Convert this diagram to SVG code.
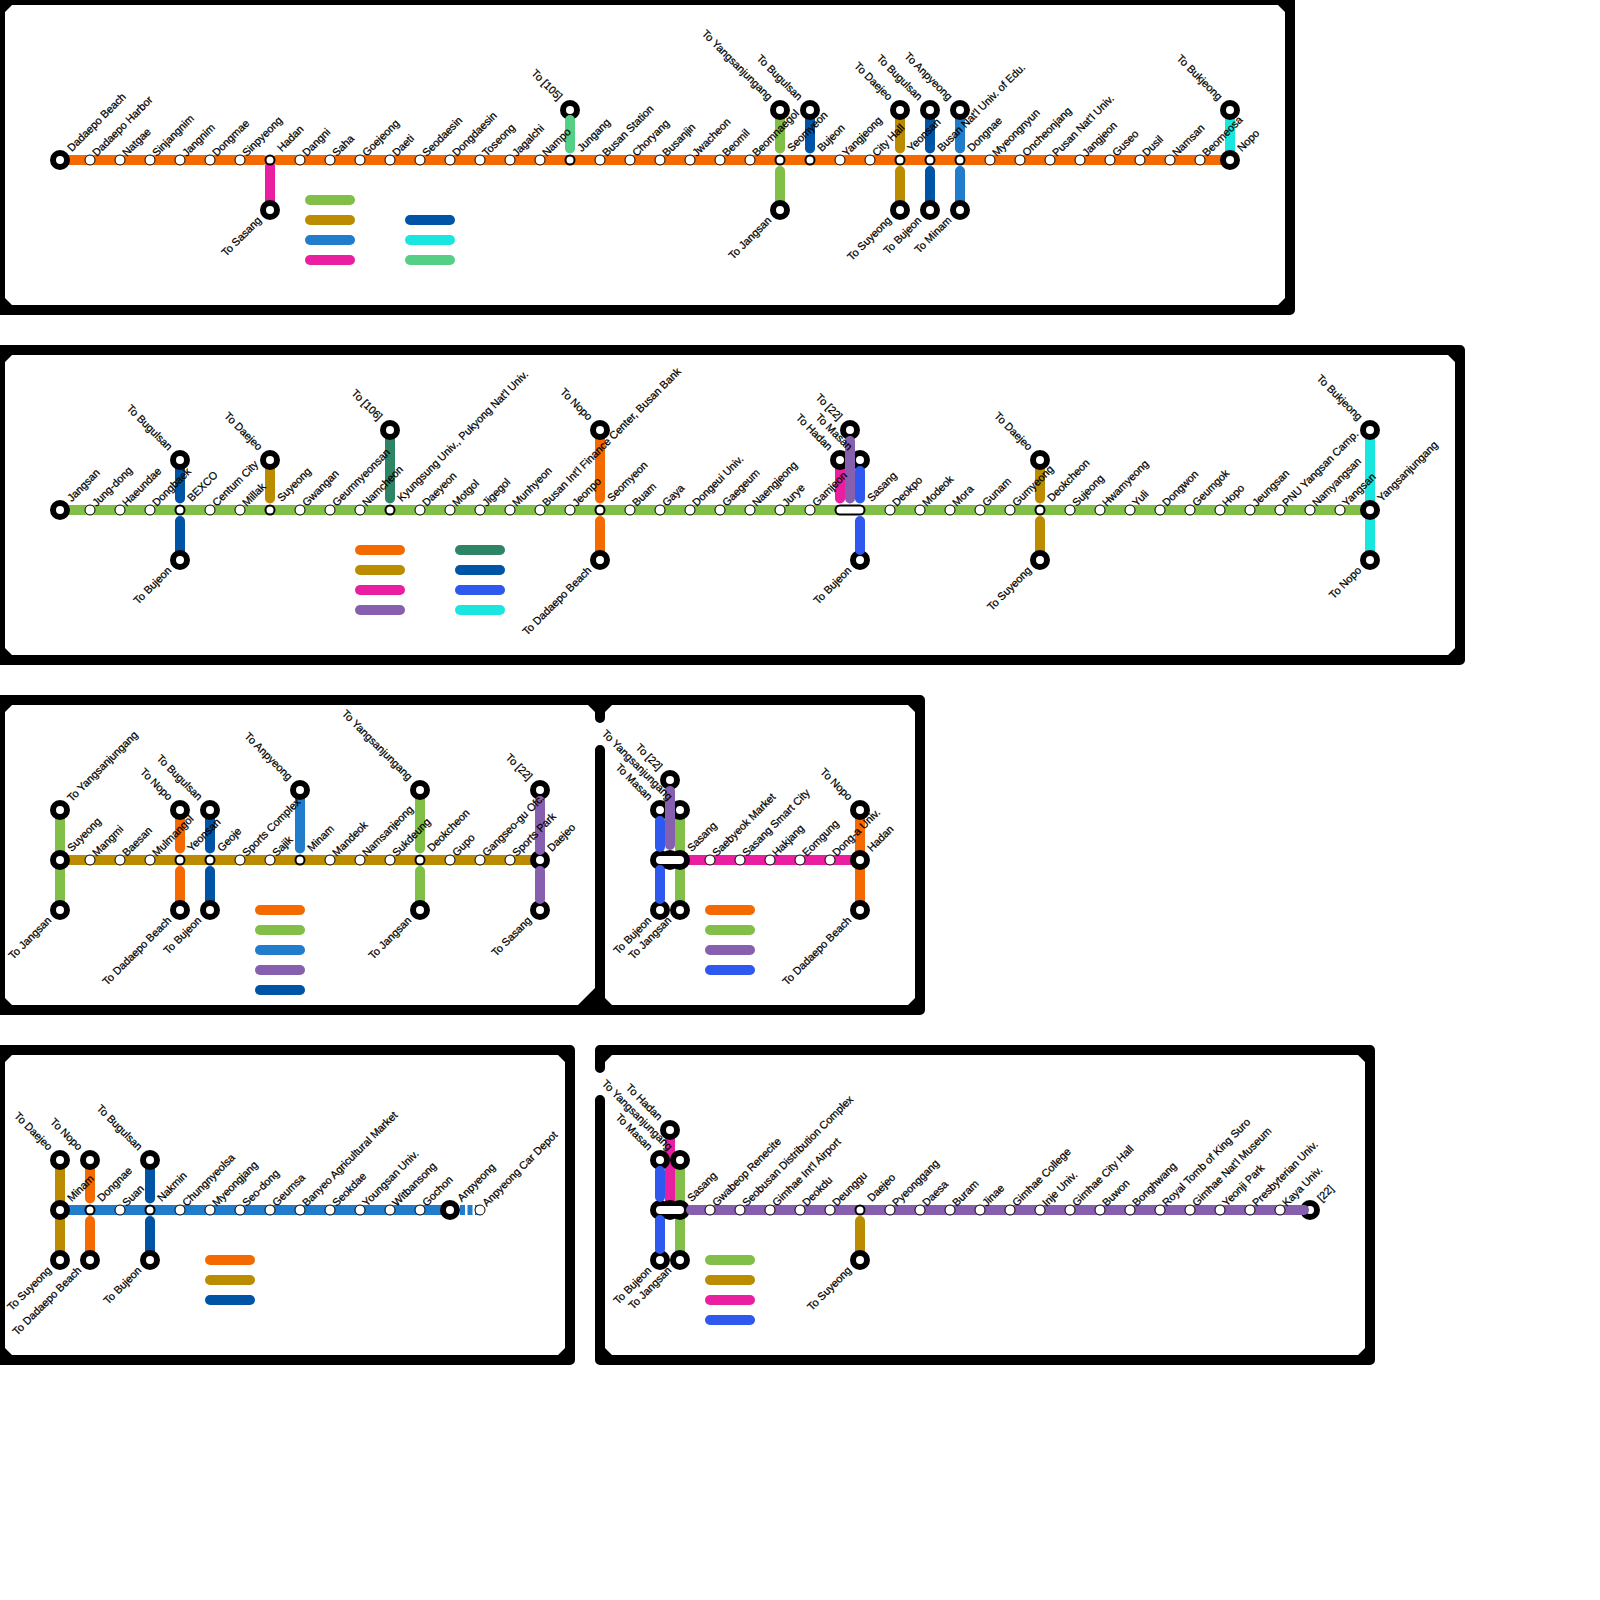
<svg xmlns="http://www.w3.org/2000/svg" width="1600" height="1600" viewBox="0 0 1600 1600">
<style>
text{font-family:"Liberation Sans",Arial,sans-serif;font-size:10.8px;fill:#000;stroke:#000;stroke-width:.25px}
.a{transform:translate(6.8px,-3px) rotate(-45deg)}
.b{transform:translate(11.7px,-7.8px) rotate(-45deg)}
.u{text-anchor:end;transform:translate(-12px,-9px) rotate(45deg)}
.d{text-anchor:end;transform:translate(-8px,11px) rotate(-45deg)}
.f{fill:none;stroke:#000;stroke-width:10;stroke-linejoin:round;stroke-linecap:round}
.l{fill:none;stroke-width:10;stroke-linecap:round}
.or{stroke:#F56A00}.gr{stroke:#81BF48}.br{stroke:#BB8C00}.mb{stroke:#217DCB}.pk{stroke:#E91EA0}.db{stroke:#0054A6}.cy{stroke:#1AE6E0}.mt{stroke:#55CF85}.te{stroke:#2E8565}.bb{stroke:#2F58EE}.pu{stroke:#8660AE}
.s{fill:#fff;stroke:#000;stroke-width:1}
.i{fill:#fff;stroke:#000;stroke-width:2}
.t{fill:#fff;stroke:#000;stroke-width:6}
</style>
<g id="panels">
<rect class="f" x="0" y="0" width="1290" height="310"/>
<rect class="f" x="0" y="350" width="1460" height="310"/>
<path class="f" d="M600 718V700H0V1010H920V700H600M600 750V1010"/>
<rect class="f" x="0" y="1050" width="570" height="310"/>
<path class="f" d="M600 1068V1050H1370V1360H600V1100"/>
<path d="M5 5h7l-7 7zM5 305h7l-7-7zM1285 5h-7l7 7zM1285 305h-7l7-7z"/>
<path d="M5 355h7l-7 7zM5 655h7l-7-7zM1455 355h-7l7 7zM1455 655h-7l7-7z"/>
<path d="M5 705h7l-7 7zM5 1005h7l-7-7zM595 705h-7l7 7zM605 705h7l-7 7zM915 705h-7l7 7zM915 1005h-7l7-7zM605 1005h7l-7-7zM595 1005h-17l17-17z"/>
<path d="M5 1055h7l-7 7zM5 1355h7l-7-7zM565 1055h-7l7 7zM565 1355h-7l7-7z"/>
<path d="M605 1055h7l-7 7zM605 1355h7l-7-7zM1365 1055h-7l7 7zM1365 1355h-7l7-7z"/>
</g>
<g id="legends">
<path class="l gr" d="M310 200H350"/><path class="l br" d="M310 220H350"/><path class="l mb" d="M310 240H350"/><path class="l pk" d="M310 260H350"/>
<path class="l db" d="M410 220H450"/><path class="l cy" d="M410 240H450"/><path class="l mt" d="M410 260H450"/>
<path class="l or" d="M360 550H400"/><path class="l br" d="M360 570H400"/><path class="l pk" d="M360 590H400"/><path class="l pu" d="M360 610H400"/>
<path class="l te" d="M460 550H500"/><path class="l db" d="M460 570H500"/><path class="l bb" d="M460 590H500"/><path class="l cy" d="M460 610H500"/>
<path class="l or" d="M260 910H300"/><path class="l gr" d="M260 930H300"/><path class="l mb" d="M260 950H300"/><path class="l pu" d="M260 970H300"/><path class="l db" d="M260 990H300"/>
<path class="l or" d="M710 910H750"/><path class="l gr" d="M710 930H750"/><path class="l pu" d="M710 950H750"/><path class="l bb" d="M710 970H750"/>
<path class="l or" d="M210 1260H250"/><path class="l br" d="M210 1280H250"/><path class="l db" d="M210 1300H250"/>
<path class="l gr" d="M710 1260H750"/><path class="l br" d="M710 1280H750"/><path class="l pk" d="M710 1300H750"/><path class="l bb" d="M710 1320H750"/>
</g>
<g id="connectors">
<path class="l or" d="M60 160H263M277 160H1230"/>
<path class="l pk" d="M270 166V205"/>
<path class="l gr" d="M780 110V148.5M780 171V210"/>
<path class="l db" d="M810 110V148.5"/>
<path class="l br" d="M900 110V148.5M900 171V210"/>
<path class="l db" d="M930 110V148.5M930 171V210"/>
<path class="l mb" d="M960 110V148.5M960 171V210"/>
<path class="l cy" d="M1230 110V160"/>
<path class="l gr" d="M60 510H1370"/>
<path class="l db" d="M180 460V498.5M180 521V560"/>
<path class="l br" d="M270 460V498.5"/>
<path class="l te" d="M390 430V498.5"/>
<path class="l or" d="M600 430V498.5M600 521V560"/>
<path class="l pk" d="M840 460V498.5"/>
<path class="l br" d="M1040 460V498.5M1040 521V560"/>
<path class="l cy" d="M1370 430V560"/>
<path class="l br" d="M60 860H540"/>
<path class="l gr" d="M60 810V910"/>
<path class="l or" d="M180 810V848.5M180 871V910"/>
<path class="l db" d="M210 810V848.5M210 871V910"/>
<path class="l mb" d="M300 790V848.5"/>
<path class="l gr" d="M420 790V848.5M420 871V910"/>
<path class="l pk" d="M680 860H860"/>
<path class="l gr" d="M680 810V910"/>
<path class="l or" d="M860 810V910"/>
<path class="l mb" d="M60 1210H450"/>
<path class="l mb" style="stroke-linecap:butt;stroke-dasharray:5 2.5" d="M452.5 1210H480"/>
<path class="l br" d="M60 1160V1260"/>
<path class="l or" d="M90 1160V1198.5M90 1221V1260"/>
<path class="l db" d="M150 1160V1198.5M150 1221V1260"/>
<path class="l pk" d="M670 1130V1205"/>
<path class="l gr" d="M680 1160V1260"/>
<path class="l br" d="M860 1221V1260"/>
</g>
<g id="terminal-rings">
<circle class="t" cx="570" cy="110" r="7"/>
<circle class="t" cx="850" cy="430" r="7"/>
<circle class="t" cx="840" cy="460" r="7"/>
<circle class="t" cx="860" cy="460" r="7"/>
<circle class="t" cx="860" cy="560" r="7"/>
<circle class="t" cx="540" cy="790" r="7"/>
<circle class="t" cx="540" cy="860" r="7"/>
<circle class="t" cx="540" cy="910" r="7"/>
<circle class="t" cx="670" cy="780" r="7"/>
<circle class="t" cx="660" cy="810" r="7"/>
<circle class="t" cx="680" cy="810" r="7"/>
<circle class="t" cx="660" cy="910" r="7"/>
<circle class="t" cx="680" cy="910" r="7"/>
<circle class="t" cx="670" cy="1130" r="7"/>
<circle class="t" cx="660" cy="1160" r="7"/>
<circle class="t" cx="680" cy="1160" r="7"/>
<circle class="t" cx="660" cy="1260" r="7"/>
<circle class="t" cx="680" cy="1260" r="7"/>
<circle class="t" cx="1310" cy="1210" r="7"/>
<g id="sasang-pill-3"><circle cx="660" cy="860" r="10"/><circle cx="670" cy="860" r="10"/><circle cx="680" cy="860" r="10"/><path d="M660 860H680" stroke="#fff" stroke-width="8" stroke-linecap="round"/></g>
<g id="sasang-pill-4"><circle cx="660" cy="1210" r="10"/><circle cx="670" cy="1210" r="10"/><circle cx="680" cy="1210" r="10"/><path d="M660 1210H680" stroke="#fff" stroke-width="8" stroke-linecap="round"/></g>
</g>
<g id="connectors-top">
<path class="l mt" d="M570 120V148.5"/>
<path class="l pu" d="M850 441V498.5"/>
<path class="l bb" d="M860 471V498.5M860 521V550"/>
<path class="l pu" d="M540 801V850M540 871V899"/>
<path class="l pu" d="M670 791V845"/>
<path class="l bb" d="M660 821V847M660 870V899"/>
<path class="l bb" d="M660 1171V1197M660 1220V1249"/>
<path class="l pu" d="M691 1210H1304"/>
</g>
<g id="station-pill"><path d="M840 510H860" stroke="#000" stroke-width="11" stroke-linecap="round"/><path d="M840 510H860" stroke="#fff" stroke-width="7" stroke-linecap="round"/></g>
<g id="line-1-stations">
<g id="a060" transform="translate(60 160)"><circle class="t" r="7"/><text class="b">Dadaepo Beach</text></g>
<g id="a090" transform="translate(90 160)"><circle class="s" r="5"/><text class="a">Dadaepo Harbor</text></g>
<g id="a120" transform="translate(120 160)"><circle class="s" r="5"/><text class="a">Natgae</text></g>
<g id="a150" transform="translate(150 160)"><circle class="s" r="5"/><text class="a">Sinjangnim</text></g>
<g id="a180" transform="translate(180 160)"><circle class="s" r="5"/><text class="a">Jangnim</text></g>
<g id="a210" transform="translate(210 160)"><circle class="s" r="5"/><text class="a">Dongmae</text></g>
<g id="a240" transform="translate(240 160)"><circle class="s" r="5"/><text class="a">Sinpyeong</text></g>
<g id="a270" transform="translate(270 160)"><circle class="i" r="4.5"/><text class="b">Hadan</text></g>
<g id="a300" transform="translate(300 160)"><circle class="s" r="5"/><text class="a">Dangni</text></g>
<g id="a330" transform="translate(330 160)"><circle class="s" r="5"/><text class="a">Saha</text></g>
<g id="a360" transform="translate(360 160)"><circle class="s" r="5"/><text class="a">Goejeong</text></g>
<g id="a390" transform="translate(390 160)"><circle class="s" r="5"/><text class="a">Daeti</text></g>
<g id="a420" transform="translate(420 160)"><circle class="s" r="5"/><text class="a">Seodaesin</text></g>
<g id="a450" transform="translate(450 160)"><circle class="s" r="5"/><text class="a">Dongdaesin</text></g>
<g id="a480" transform="translate(480 160)"><circle class="s" r="5"/><text class="a">Toseong</text></g>
<g id="a510" transform="translate(510 160)"><circle class="s" r="5"/><text class="a">Jagalchi</text></g>
<g id="a540" transform="translate(540 160)"><circle class="s" r="5"/><text class="a">Nampo</text></g>
<g id="a570" transform="translate(570 160)"><circle class="i" r="4.5"/><text class="b">Jungang</text></g>
<g id="a600" transform="translate(600 160)"><circle class="s" r="5"/><text class="a">Busan Station</text></g>
<g id="a630" transform="translate(630 160)"><circle class="s" r="5"/><text class="a">Choryang</text></g>
<g id="a660" transform="translate(660 160)"><circle class="s" r="5"/><text class="a">Busanjin</text></g>
<g id="a690" transform="translate(690 160)"><circle class="s" r="5"/><text class="a">Jwacheon</text></g>
<g id="a720" transform="translate(720 160)"><circle class="s" r="5"/><text class="a">Beomil</text></g>
<g id="a750" transform="translate(750 160)"><circle class="s" r="5"/><text class="a">Beomnaegol</text></g>
<g id="a780" transform="translate(780 160)"><circle class="i" r="4.5"/><text class="b">Seomyeon</text></g>
<g id="a810" transform="translate(810 160)"><circle class="i" r="4.5"/><text class="b">Bujeon</text></g>
<g id="a840" transform="translate(840 160)"><circle class="s" r="5"/><text class="a">Yangjeong</text></g>
<g id="a870" transform="translate(870 160)"><circle class="s" r="5"/><text class="a">City Hall</text></g>
<g id="a900" transform="translate(900 160)"><circle class="i" r="4.5"/><text class="b">Yeonsan</text></g>
<g id="a930" transform="translate(930 160)"><circle class="i" r="4.5"/><text class="b">Busan Nat'l Univ. of Edu.</text></g>
<g id="a960" transform="translate(960 160)"><circle class="i" r="4.5"/><text class="b">Dongnae</text></g>
<g id="a990" transform="translate(990 160)"><circle class="s" r="5"/><text class="a">Myeongnyun</text></g>
<g id="a1020" transform="translate(1020 160)"><circle class="s" r="5"/><text class="a">Oncheonjang</text></g>
<g id="a1050" transform="translate(1050 160)"><circle class="s" r="5"/><text class="a">Pusan Nat'l Univ.</text></g>
<g id="a1080" transform="translate(1080 160)"><circle class="s" r="5"/><text class="a">Jangjeon</text></g>
<g id="a1110" transform="translate(1110 160)"><circle class="s" r="5"/><text class="a">Guseo</text></g>
<g id="a1140" transform="translate(1140 160)"><circle class="s" r="5"/><text class="a">Dusil</text></g>
<g id="a1170" transform="translate(1170 160)"><circle class="s" r="5"/><text class="a">Namsan</text></g>
<g id="a1200" transform="translate(1200 160)"><circle class="s" r="5"/><text class="a">Beomeosa</text></g>
<g id="a1230" transform="translate(1230 160)"><circle class="t" r="7"/><text class="b">Nopo</text></g>
<g id="at270" transform="translate(270 210)"><circle class="t" r="7"/><text class="d">To Sasang</text></g>
<g id="at570" transform="translate(570 110)"><text class="u">To [105]</text></g>
<g id="at780u" transform="translate(780 110)"><circle class="t" r="7"/><text class="u">To Yangsanjungang</text></g>
<g id="at780d" transform="translate(780 210)"><circle class="t" r="7"/><text class="d">To Jangsan</text></g>
<g id="at810" transform="translate(810 110)"><circle class="t" r="7"/><text class="u">To Bugulsan</text></g>
<g id="at900u" transform="translate(900 110)"><circle class="t" r="7"/><text class="u">To Daejeo</text></g>
<g id="at900d" transform="translate(900 210)"><circle class="t" r="7"/><text class="d">To Suyeong</text></g>
<g id="at930u" transform="translate(930 110)"><circle class="t" r="7"/><text class="u">To Bugulsan</text></g>
<g id="at930d" transform="translate(930 210)"><circle class="t" r="7"/><text class="d">To Bujeon</text></g>
<g id="at960u" transform="translate(960 110)"><circle class="t" r="7"/><text class="u">To Anpyeong</text></g>
<g id="at960d" transform="translate(960 210)"><circle class="t" r="7"/><text class="d">To Minam</text></g>
<g id="at1230" transform="translate(1230 110)"><circle class="t" r="7"/><text class="u">To Bukjeong</text></g>
</g>
<g id="line-2-stations">
<g id="b060" transform="translate(60 510)"><circle class="t" r="7"/><text class="b">Jangsan</text></g>
<g id="b090" transform="translate(90 510)"><circle class="s" r="5"/><text class="a">Jung-dong</text></g>
<g id="b120" transform="translate(120 510)"><circle class="s" r="5"/><text class="a">Haeundae</text></g>
<g id="b150" transform="translate(150 510)"><circle class="s" r="5"/><text class="a">Dongbaek</text></g>
<g id="b180" transform="translate(180 510)"><circle class="i" r="4.5"/><text class="b">BEXCO</text></g>
<g id="b210" transform="translate(210 510)"><circle class="s" r="5"/><text class="a">Centum City</text></g>
<g id="b240" transform="translate(240 510)"><circle class="s" r="5"/><text class="a">Millak</text></g>
<g id="b270" transform="translate(270 510)"><circle class="i" r="4.5"/><text class="b">Suyeong</text></g>
<g id="b300" transform="translate(300 510)"><circle class="s" r="5"/><text class="a">Gwangan</text></g>
<g id="b330" transform="translate(330 510)"><circle class="s" r="5"/><text class="a">Geumnyeonsan</text></g>
<g id="b360" transform="translate(360 510)"><circle class="s" r="5"/><text class="a">Namcheon</text></g>
<g id="b390" transform="translate(390 510)"><circle class="i" r="4.5"/><text class="b">Kyungsung Univ., Pukyong Nat'l Univ.</text></g>
<g id="b420" transform="translate(420 510)"><circle class="s" r="5"/><text class="a">Daeyeon</text></g>
<g id="b450" transform="translate(450 510)"><circle class="s" r="5"/><text class="a">Motgol</text></g>
<g id="b480" transform="translate(480 510)"><circle class="s" r="5"/><text class="a">Jigegol</text></g>
<g id="b510" transform="translate(510 510)"><circle class="s" r="5"/><text class="a">Munhyeon</text></g>
<g id="b540" transform="translate(540 510)"><circle class="s" r="5"/><text class="a">Busan Int'l Finance Center, Busan Bank</text></g>
<g id="b570" transform="translate(570 510)"><circle class="s" r="5"/><text class="a">Jeonpo</text></g>
<g id="b600" transform="translate(600 510)"><circle class="i" r="4.5"/><text class="b">Seomyeon</text></g>
<g id="b630" transform="translate(630 510)"><circle class="s" r="5"/><text class="a">Buam</text></g>
<g id="b660" transform="translate(660 510)"><circle class="s" r="5"/><text class="a">Gaya</text></g>
<g id="b690" transform="translate(690 510)"><circle class="s" r="5"/><text class="a">Dongeui Univ.</text></g>
<g id="b720" transform="translate(720 510)"><circle class="s" r="5"/><text class="a">Gaegeum</text></g>
<g id="b750" transform="translate(750 510)"><circle class="s" r="5"/><text class="a">Naengjeong</text></g>
<g id="b780" transform="translate(780 510)"><circle class="s" r="5"/><text class="a">Jurye</text></g>
<g id="b810" transform="translate(810 510)"><circle class="s" r="5"/><text class="a">Gamjeon</text></g>
<g id="b860" transform="translate(860 510)"><text class="b">Sasang</text></g>
<g id="b890" transform="translate(890 510)"><circle class="s" r="5"/><text class="a">Deokpo</text></g>
<g id="b920" transform="translate(920 510)"><circle class="s" r="5"/><text class="a">Modeok</text></g>
<g id="b950" transform="translate(950 510)"><circle class="s" r="5"/><text class="a">Mora</text></g>
<g id="b980" transform="translate(980 510)"><circle class="s" r="5"/><text class="a">Gunam</text></g>
<g id="b1010" transform="translate(1010 510)"><circle class="s" r="5"/><text class="a">Gumyeong</text></g>
<g id="b1040" transform="translate(1040 510)"><circle class="i" r="4.5"/><text class="b">Deokcheon</text></g>
<g id="b1070" transform="translate(1070 510)"><circle class="s" r="5"/><text class="a">Sujeong</text></g>
<g id="b1100" transform="translate(1100 510)"><circle class="s" r="5"/><text class="a">Hwamyeong</text></g>
<g id="b1130" transform="translate(1130 510)"><circle class="s" r="5"/><text class="a">Yuli</text></g>
<g id="b1160" transform="translate(1160 510)"><circle class="s" r="5"/><text class="a">Dongwon</text></g>
<g id="b1190" transform="translate(1190 510)"><circle class="s" r="5"/><text class="a">Geumgok</text></g>
<g id="b1220" transform="translate(1220 510)"><circle class="s" r="5"/><text class="a">Hopo</text></g>
<g id="b1250" transform="translate(1250 510)"><circle class="s" r="5"/><text class="a">Jeungsan</text></g>
<g id="b1280" transform="translate(1280 510)"><circle class="s" r="5"/><text class="a">PNU Yangsan Camp.</text></g>
<g id="b1310" transform="translate(1310 510)"><circle class="s" r="5"/><text class="a">Namyangsan</text></g>
<g id="b1340" transform="translate(1340 510)"><circle class="s" r="5"/><text class="a">Yangsan</text></g>
<g id="b1370" transform="translate(1370 510)"><circle class="t" r="7"/><text class="b">Yangsanjungang</text></g>
<g id="bt180u" transform="translate(180 460)"><circle class="t" r="7"/><text class="u">To Bugulsan</text></g>
<g id="bt180d" transform="translate(180 560)"><circle class="t" r="7"/><text class="d">To Bujeon</text></g>
<g id="bt270" transform="translate(270 460)"><circle class="t" r="7"/><text class="u">To Daejeo</text></g>
<g id="bt390" transform="translate(390 430)"><circle class="t" r="7"/><text class="u">To [106]</text></g>
<g id="bt600u" transform="translate(600 430)"><circle class="t" r="7"/><text class="u">To Nopo</text></g>
<g id="bt600d" transform="translate(600 560)"><circle class="t" r="7"/><text class="d">To Dadaepo Beach</text></g>
<g id="bt840" transform="translate(840 460)"><text class="u">To Hadan</text></g>
<g id="bt850" transform="translate(850 430)"><text class="u">To [22]</text></g>
<g id="bt860u" transform="translate(860 460)"><text class="u">To Masan</text></g>
<g id="bt860d" transform="translate(860 560)"><text class="d">To Bujeon</text></g>
<g id="bt1040u" transform="translate(1040 460)"><circle class="t" r="7"/><text class="u">To Daejeo</text></g>
<g id="bt1040d" transform="translate(1040 560)"><circle class="t" r="7"/><text class="d">To Suyeong</text></g>
<g id="bt1370u" transform="translate(1370 430)"><circle class="t" r="7"/><text class="u">To Bukjeong</text></g>
<g id="bt1370d" transform="translate(1370 560)"><circle class="t" r="7"/><text class="d">To Nopo</text></g>
</g>
<g id="line-3-stations">
<g id="c060" transform="translate(60 860)"><circle class="t" r="7"/><text class="b">Suyeong</text></g>
<g id="c090" transform="translate(90 860)"><circle class="s" r="5"/><text class="a">Mangmi</text></g>
<g id="c120" transform="translate(120 860)"><circle class="s" r="5"/><text class="a">Baesan</text></g>
<g id="c150" transform="translate(150 860)"><circle class="s" r="5"/><text class="a">Mulmangol</text></g>
<g id="c180" transform="translate(180 860)"><circle class="i" r="4.5"/><text class="b">Yeonsan</text></g>
<g id="c210" transform="translate(210 860)"><circle class="i" r="4.5"/><text class="b">Geoje</text></g>
<g id="c240" transform="translate(240 860)"><circle class="s" r="5"/><text class="a">Sports Complex</text></g>
<g id="c270" transform="translate(270 860)"><circle class="s" r="5"/><text class="a">Sajik</text></g>
<g id="c300" transform="translate(300 860)"><circle class="i" r="4.5"/><text class="b">Minam</text></g>
<g id="c330" transform="translate(330 860)"><circle class="s" r="5"/><text class="a">Mandeok</text></g>
<g id="c360" transform="translate(360 860)"><circle class="s" r="5"/><text class="a">Namsanjeong</text></g>
<g id="c390" transform="translate(390 860)"><circle class="s" r="5"/><text class="a">Sukdeung</text></g>
<g id="c420" transform="translate(420 860)"><circle class="i" r="4.5"/><text class="b">Deokcheon</text></g>
<g id="c450" transform="translate(450 860)"><circle class="s" r="5"/><text class="a">Gupo</text></g>
<g id="c480" transform="translate(480 860)"><circle class="s" r="5"/><text class="a">Gangseo-gu Ofc.</text></g>
<g id="c510" transform="translate(510 860)"><circle class="s" r="5"/><text class="a">Sports Park</text></g>
<g id="c540" transform="translate(540 860)"><text class="b">Daejeo</text></g>
<g id="ct060u" transform="translate(60 810)"><circle class="t" r="7"/><text class="b">To Yangsanjungang</text></g>
<g id="ct060d" transform="translate(60 910)"><circle class="t" r="7"/><text class="d">To Jangsan</text></g>
<g id="ct180u" transform="translate(180 810)"><circle class="t" r="7"/><text class="u">To Nopo</text></g>
<g id="ct180d" transform="translate(180 910)"><circle class="t" r="7"/><text class="d">To Dadaepo Beach</text></g>
<g id="ct210u" transform="translate(210 810)"><circle class="t" r="7"/><text class="u">To Bugulsan</text></g>
<g id="ct210d" transform="translate(210 910)"><circle class="t" r="7"/><text class="d">To Bujeon</text></g>
<g id="ct300" transform="translate(300 790)"><circle class="t" r="7"/><text class="u">To Anpyeong</text></g>
<g id="ct420u" transform="translate(420 790)"><circle class="t" r="7"/><text class="u">To Yangsanjungang</text></g>
<g id="ct420d" transform="translate(420 910)"><circle class="t" r="7"/><text class="d">To Jangsan</text></g>
<g id="ct540u" transform="translate(540 790)"><text class="u">To [22]</text></g>
<g id="ct540d" transform="translate(540 910)"><text class="d">To Sasang</text></g>
</g>
<g id="line-4-stations">
<g id="d680" transform="translate(680 860)"><text class="b">Sasang</text></g>
<g id="d710" transform="translate(710 860)"><circle class="s" r="5"/><text class="a">Saebyeok Market</text></g>
<g id="d740" transform="translate(740 860)"><circle class="s" r="5"/><text class="a">Sasang Smart City</text></g>
<g id="d770" transform="translate(770 860)"><circle class="s" r="5"/><text class="a">Hakjang</text></g>
<g id="d800" transform="translate(800 860)"><circle class="s" r="5"/><text class="a">Eomgung</text></g>
<g id="d830" transform="translate(830 860)"><circle class="s" r="5"/><text class="a">Dong-a Univ.</text></g>
<g id="d860" transform="translate(860 860)"><circle class="t" r="7"/><text class="b">Hadan</text></g>
<g id="dt660u" transform="translate(660 810)"><text class="u">To Masan</text></g>
<g id="dt670u" transform="translate(670 780)"><text class="u">To [22]</text></g>
<g id="dt680u" transform="translate(680 810)"><text class="u">To Yangsanjungang</text></g>
<g id="dt660d" transform="translate(660 910)"><text class="d">To Bujeon</text></g>
<g id="dt680d" transform="translate(680 910)"><text class="d">To Jangsan</text></g>
<g id="dt860u" transform="translate(860 810)"><circle class="t" r="7"/><text class="u">To Nopo</text></g>
<g id="dt860d" transform="translate(860 910)"><circle class="t" r="7"/><text class="d">To Dadaepo Beach</text></g>
</g>
<g id="line-5-stations">
<g id="e060" transform="translate(60 1210)"><circle class="t" r="7"/><text class="b">Minam</text></g>
<g id="e090" transform="translate(90 1210)"><circle class="i" r="4.5"/><text class="b">Dongnae</text></g>
<g id="e120" transform="translate(120 1210)"><circle class="s" r="5"/><text class="a">Suan</text></g>
<g id="e150" transform="translate(150 1210)"><circle class="i" r="4.5"/><text class="b">Nakmin</text></g>
<g id="e180" transform="translate(180 1210)"><circle class="s" r="5"/><text class="a">Chungnyeolsa</text></g>
<g id="e210" transform="translate(210 1210)"><circle class="s" r="5"/><text class="a">Myeongjang</text></g>
<g id="e240" transform="translate(240 1210)"><circle class="s" r="5"/><text class="a">Seo-dong</text></g>
<g id="e270" transform="translate(270 1210)"><circle class="s" r="5"/><text class="a">Geumsa</text></g>
<g id="e300" transform="translate(300 1210)"><circle class="s" r="5"/><text class="a">Banyeo Agricultural Market</text></g>
<g id="e330" transform="translate(330 1210)"><circle class="s" r="5"/><text class="a">Seokdae</text></g>
<g id="e360" transform="translate(360 1210)"><circle class="s" r="5"/><text class="a">Youngsan Univ.</text></g>
<g id="e390" transform="translate(390 1210)"><circle class="s" r="5"/><text class="a">Witbansong</text></g>
<g id="e420" transform="translate(420 1210)"><circle class="s" r="5"/><text class="a">Gochon</text></g>
<g id="e450" transform="translate(450 1210)"><circle class="t" r="7"/><text class="b">Anpyeong</text></g>
<g id="e480" transform="translate(480 1210)"><circle class="s" r="5"/><text class="a">Anpyeong Car Depot</text></g>
<g id="et060u" transform="translate(60 1160)"><circle class="t" r="7"/><text class="u">To Daejeo</text></g>
<g id="et060d" transform="translate(60 1260)"><circle class="t" r="7"/><text class="d">To Suyeong</text></g>
<g id="et090u" transform="translate(90 1160)"><circle class="t" r="7"/><text class="u">To Nopo</text></g>
<g id="et090d" transform="translate(90 1260)"><circle class="t" r="7"/><text class="d">To Dadaepo Beach</text></g>
<g id="et150u" transform="translate(150 1160)"><circle class="t" r="7"/><text class="u">To Bugulsan</text></g>
<g id="et150d" transform="translate(150 1260)"><circle class="t" r="7"/><text class="d">To Bujeon</text></g>
</g>
<g id="line-6-stations">
<g id="f680" transform="translate(680 1210)"><text class="b">Sasang</text></g>
<g id="f710" transform="translate(710 1210)"><circle class="s" r="5"/><text class="a">Gwabeop Renecite</text></g>
<g id="f740" transform="translate(740 1210)"><circle class="s" r="5"/><text class="a">Seobusan Distribution Complex</text></g>
<g id="f770" transform="translate(770 1210)"><circle class="s" r="5"/><text class="a">Gimhae Int'l Airport</text></g>
<g id="f800" transform="translate(800 1210)"><circle class="s" r="5"/><text class="a">Deokdu</text></g>
<g id="f830" transform="translate(830 1210)"><circle class="s" r="5"/><text class="a">Deunggu</text></g>
<g id="f860" transform="translate(860 1210)"><circle class="i" r="4.5"/><text class="b">Daejeo</text></g>
<g id="f890" transform="translate(890 1210)"><circle class="s" r="5"/><text class="a">Pyeonggang</text></g>
<g id="f920" transform="translate(920 1210)"><circle class="s" r="5"/><text class="a">Daesa</text></g>
<g id="f950" transform="translate(950 1210)"><circle class="s" r="5"/><text class="a">Buram</text></g>
<g id="f980" transform="translate(980 1210)"><circle class="s" r="5"/><text class="a">Jinae</text></g>
<g id="f1010" transform="translate(1010 1210)"><circle class="s" r="5"/><text class="a">Gimhae College</text></g>
<g id="f1040" transform="translate(1040 1210)"><circle class="s" r="5"/><text class="a">Inje Univ.</text></g>
<g id="f1070" transform="translate(1070 1210)"><circle class="s" r="5"/><text class="a">Gimhae City Hall</text></g>
<g id="f1100" transform="translate(1100 1210)"><circle class="s" r="5"/><text class="a">Buwon</text></g>
<g id="f1130" transform="translate(1130 1210)"><circle class="s" r="5"/><text class="a">Bonghwang</text></g>
<g id="f1160" transform="translate(1160 1210)"><circle class="s" r="5"/><text class="a">Royal Tomb of King Suro</text></g>
<g id="f1190" transform="translate(1190 1210)"><circle class="s" r="5"/><text class="a">Gimhae Nat'l Museum</text></g>
<g id="f1220" transform="translate(1220 1210)"><circle class="s" r="5"/><text class="a">Yeonji Park</text></g>
<g id="f1250" transform="translate(1250 1210)"><circle class="s" r="5"/><text class="a">Presbyterian Univ.</text></g>
<g id="f1280" transform="translate(1280 1210)"><circle class="s" r="5"/><text class="a">Kaya Univ.</text></g>
<g id="f1310" transform="translate(1310 1210)"><text class="b">[22]</text></g>
<g id="ft660u" transform="translate(660 1160)"><text class="u">To Masan</text></g>
<g id="ft670u" transform="translate(670 1130)"><text class="u">To Hadan</text></g>
<g id="ft680u" transform="translate(680 1160)"><text class="u">To Yangsanjungang</text></g>
<g id="ft660d" transform="translate(660 1260)"><text class="d">To Bujeon</text></g>
<g id="ft680d" transform="translate(680 1260)"><text class="d">To Jangsan</text></g>
<g id="ft860d" transform="translate(860 1260)"><circle class="t" r="7"/><text class="d">To Suyeong</text></g>
</g>
</svg>
